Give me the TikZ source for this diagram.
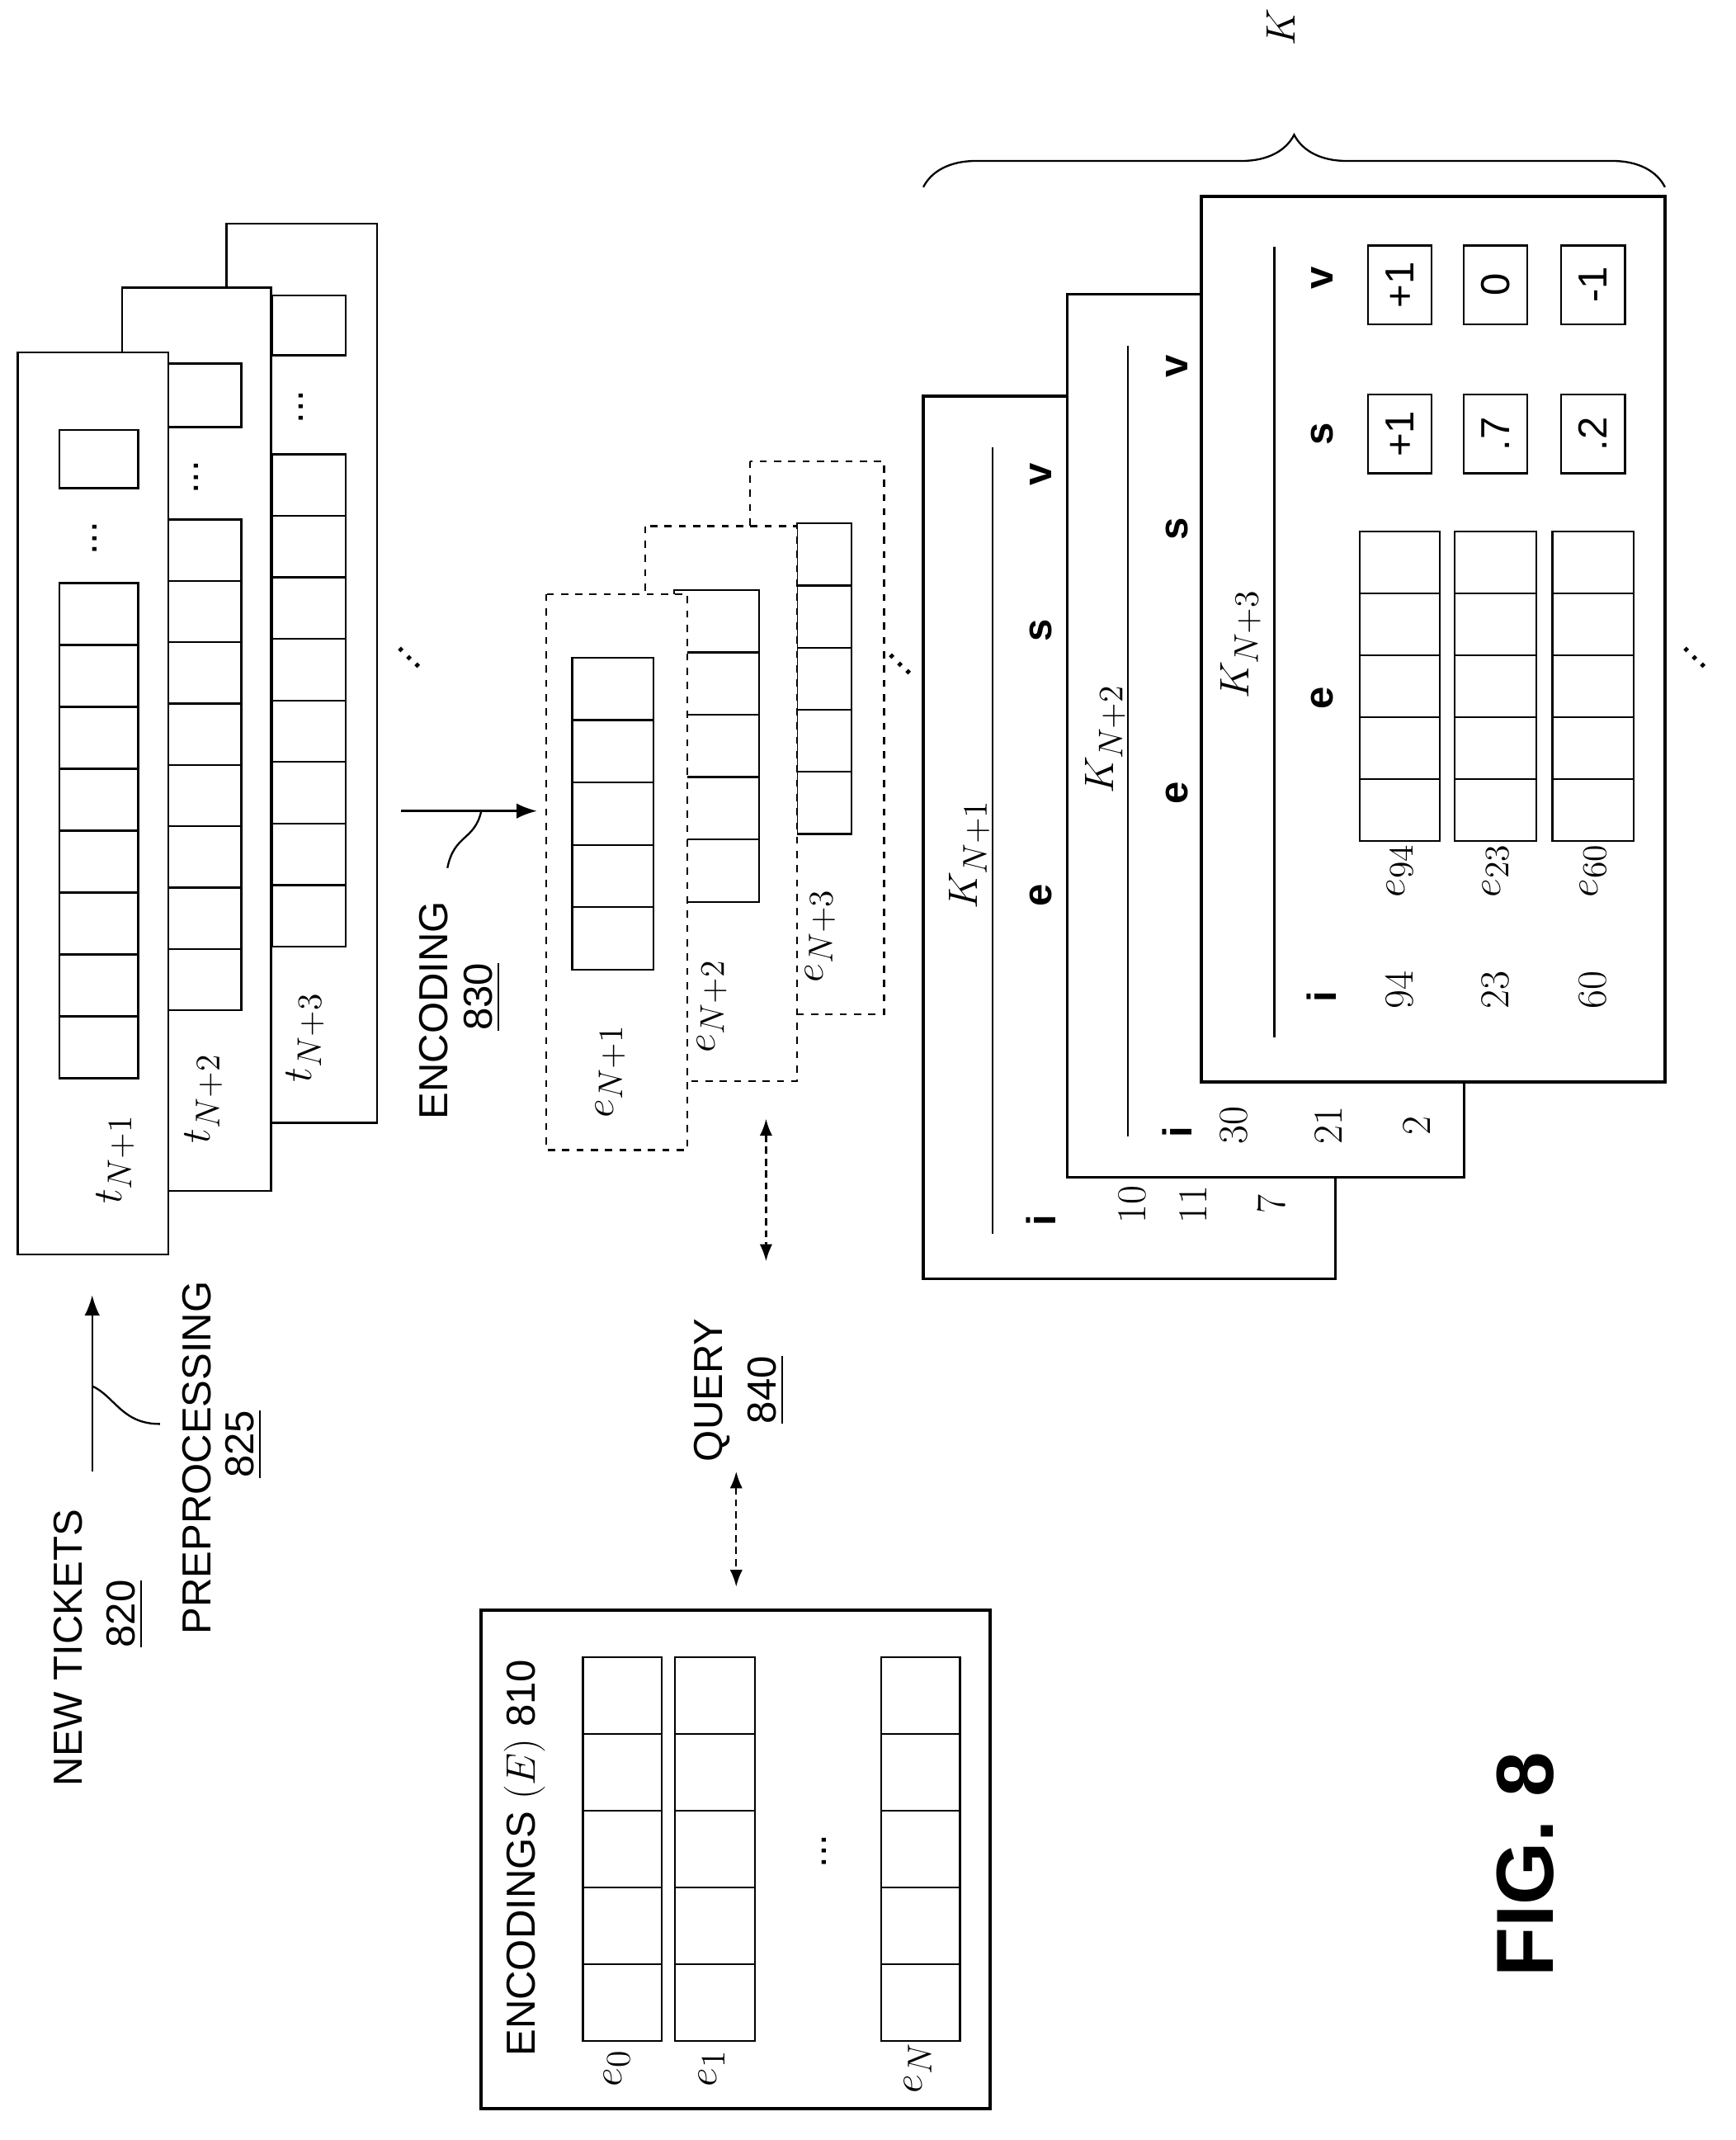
\documentclass[tikz,border=0pt]{standalone}
\usepackage{fontspec}
\setmainfont{Liberation Sans}
\usepackage{amsmath}
\usetikzlibrary{decorations.pathreplacing,arrows.meta}

% column of n cells between y1 and y2
\newcommand{\cellcol}[5]{%
  \draw[thick] (#1,#3) rectangle (#2,#4);
  \pgfmathsetmacro{\cellh}{(#4-#3)/#5}
  \foreach \k in {1,...,\numexpr#5-1\relax}
    \draw[thick] (#1,#3+\k*\cellh) -- (#2,#3+\k*\cellh);}

\begin{document}
\begin{tikzpicture}[x=0.02cm,y=-0.02cm,
    lbl/.style={rotate=90,font=\fontsize{17}{19}\selectfont},
    mlbl/.style={rotate=90,font=\fontsize{19}{21}\selectfont},
    hdr/.style={rotate=90,font=\fontsize{17}{19}\selectfont\bfseries},
    ddots/.style={rotate=-45,inner sep=0pt,font=\fontsize{17}{19}\selectfont},
    sheet/.style={draw,thick,fill=white},
    dsheet/.style={draw,thick,dashed,fill=white},
    val/.style={draw,thick,minimum width=1.16cm,minimum height=0.94cm,rotate=90,font=\fontsize{17}{19}\selectfont}]
    \useasboundingbox[fill=white] (0,0) rectangle (1280,1578);

    % Tickets
    \draw[sheet] (167,165) rectangle (278,828);
    \cellcol{201}{255}{335}{698}{8}
    \draw[thick] (201,218) rectangle (255,262);
    \node[lbl] (dotsc) at (222,300) {...};
    \node[mlbl] (t3) at (225,765) {$t_{N+3}$};
    \draw[sheet] (90,212) rectangle (200,878);
    \cellcol{124}{178}{383}{745}{8}
    \draw[thick] (124,268) rectangle (178,315);
    \node[lbl] (dotsb) at (145,352) {...};
    \node[mlbl] (t2) at (150,810) {$t_{N+2}$};
    \draw[sheet] (13,260) rectangle (124,925);
    \cellcol{44}{102}{430}{795}{8}
    \draw[thick] (44,317) rectangle (102,360);
    \node[lbl] (dotsa) at (70,397) {...};
    \node[mlbl] (t1) at (85,855) {$t_{N+1}$};
    \node[ddots] (tdots) at (302,485) {...};

    % New tickets / preprocessing
    \node[lbl] (newt) at (50,1215) {NEW TICKETS};
    \node[lbl] (n820) at (92,1190) {\underline{820}};
    \node[lbl] (prep) at (145,1075) {PREPROCESSING};
    \node[lbl] (n825) at (180,1065) {\underline{825}};
    \coordinate (pa) at (68,1085);
    \coordinate (pb) at (68,955);
    \draw[-{Latex[length=3mm]},thick] (pa) -- (pb);
    \draw[thick] (68,1022) .. controls (85,1030) and (90,1050) .. (118,1050);

    % Encoding
    \coordinate (ea) at (296,598);
    \coordinate (eb) at (396,598);
    \draw[-{Latex[length=3mm]},thick] (ea) -- (eb);
    \draw[thick] (355,598) .. controls (350,620) and (335,615) .. (330,640);
    \node[lbl] (enc) at (320,745) {ENCODING};
    \node[lbl] (n830) at (356,735) {\underline{830}};

    \draw[dsheet] (553,340) rectangle (652,748);
    \cellcol{588}{628}{386}{615}{5}
    \node[mlbl] (e3) at (605,690) {$e_{N+3}$};
    \draw[dsheet] (476,388) rectangle (588,797);
    \cellcol{497}{560}{435}{665}{5}
    \node[mlbl] (e2) at (525,742) {$e_{N+2}$};
    \draw[dsheet] (403,438) rectangle (507,848);
    \cellcol{422}{482}{485}{715}{5}
    \node[mlbl] (e1) at (450,790) {$e_{N+1}$};
    \node[ddots] (edots) at (664,490) {...};

    % Query
    \coordinate (qa) at (565,825);
    \coordinate (qb) at (565,930);
    \draw[{Latex[length=2.5mm]}-{Latex[length=2.5mm]},thick,densely dashed] (qa) -- (qb);
    \node[lbl] (query) at (525,1025) {QUERY};
    \node[lbl] (n840) at (565,1025) {\underline{840}};
    \coordinate (qc) at (543,1085);
    \coordinate (qd) at (543,1170);
    \draw[{Latex[length=2.5mm]}-{Latex[length=2.5mm]},thick,densely dashed] (qc) -- (qd);

    % Encodings E
    \draw[sheet,line width=1.4pt] (355,1187) rectangle (730,1555);
    \node[lbl] (enctitle) at (387,1370) {ENCODINGS $(E)$ 810};
    \cellcol{430}{488}{1222}{1505}{5}
    \cellcol{498}{557}{1222}{1505}{5}
    \cellcol{650}{708}{1222}{1505}{5}
    \node[lbl] (edotsb) at (608,1365) {...};
    \node[mlbl] (e0) at (455,1525) {$e_0$};
    \node[mlbl] (e1b) at (525,1525) {$e_1$};
    \node[mlbl] (eN) at (677,1525) {$e_N$};

    % K tables
    \draw[sheet,line width=1.2pt] (681,292) rectangle (985,943);
    \node[mlbl] (k1) at (715,630) {$K_{N+1}$};
    \draw[thick] (732,330) -- (732,910);
    \foreach \t/\p in {i/900,e/660,s/465,v/350}
        \node[hdr] at (768,\p) {\t};
    \foreach \t/\p in {10/835,11/880,7/938}
        \node[mlbl] at (\p,888) {$\t$};

    \draw[sheet,line width=1.2pt] (787,217) rectangle (1080,868);
    \node[mlbl] (k2) at (815,545) {$K_{N+2}$};
    \draw[thick] (832,255) -- (832,838);
    \foreach \t/\p in {i/835,e/585,s/390,v/270}
        \node[hdr] at (868,\p) {\t};
    \foreach \t/\p in {30/910,21/980,2/1045}
        \node[mlbl] at (\p,830) {$\t$};

    \draw[sheet,line width=1.4pt] (886,145) rectangle (1228,798);
    \node[mlbl] (k3) at (915,475) {$K_{N+3}$};
    \draw[thick] (940,182) -- (940,765);
    \foreach \t/\p in {i/735,e/515,s/320,v/205}
        \node[hdr] at (975,\p) {\t};
    \foreach \a/\b/\n/\s/\v in {1003/1062/94/+1/+1,1073/1133/23/.7/0,1145/1205/60/.2/-1}{
        \cellcol{\a}{\b}{392}{620}{5}
        \node[mlbl] at ({(\a+\b)/2},730) {$\n$};
        \node[mlbl] at ({(\a+\b)/2},642) {$e_{\n}$};
        \node[val] at ({(\a+\b)/2},320) {\s};
        \node[val] at ({(\a+\b)/2},210) {\v};
    }
    \node[ddots] (kdots) at (1250,485) {...};

    % brace
    \coordinate (ba) at (681,138);
    \coordinate (bb) at (1228,138);
    \draw[decorate,decoration={brace,amplitude=22pt},thick] (ba) -- (bb);
    \node[mlbl] (K) at (945,20) {$K$};

    \node[rotate=90,font=\fontsize{34}{36}\selectfont\bfseries] (fig) at (1125,1375) {FIG. 8};
\end{tikzpicture}
\end{document}
